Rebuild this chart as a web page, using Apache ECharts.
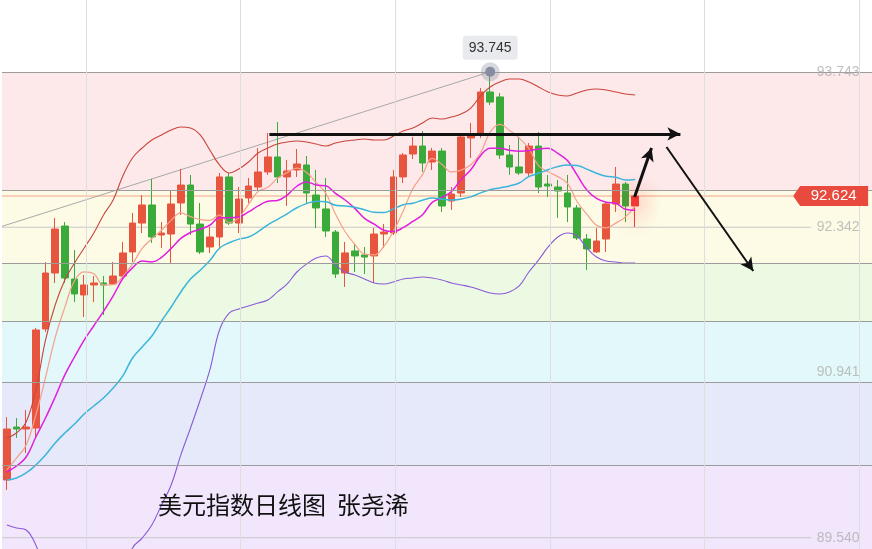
<!DOCTYPE html>
<html><head><meta charset="utf-8">
<script src="https://cdn.jsdelivr.net/npm/echarts@6/dist/echarts.min.js"></script>
<style>html,body{margin:0;padding:0;background:#fff}#c{width:872px;height:549px}</style>
</head><body><div id="c"></div>
<script>
// ---- data ----
const categories = Array.from({length: 90}, (_, i) => 'D' + (i + 1));
// [open, close, low, high]
const ohlc = [
[90.061,90.521,89.971,90.629],[90.539,90.521,90.440,90.620],[90.521,90.539,90.305,90.693],[90.530,91.415,90.449,91.433],
[91.424,91.929,91.397,92.028],[91.929,92.326,91.839,92.426],[92.353,91.884,91.839,92.389],[91.875,91.740,91.667,92.137],
[91.731,91.821,91.532,91.911],[91.821,91.839,91.667,91.902],[91.839,91.821,91.550,91.902],[91.830,91.902,91.821,92.028],
[91.902,92.110,91.884,92.209],[92.119,92.380,92.028,92.471],[92.380,92.543,92.290,92.633],[92.543,92.254,92.200,92.778],
[92.272,92.290,92.155,92.389],[92.281,92.552,92.019,92.678],[92.561,92.723,92.453,92.868],[92.723,92.371,92.272,92.814],
[92.371,92.119,92.101,92.561],[92.164,92.254,92.110,92.344],[92.254,92.796,92.155,92.832],[92.796,92.380,92.362,92.832],
[92.380,92.597,92.290,92.705],[92.606,92.714,92.561,92.787],[92.705,92.841,92.678,93.057],[92.841,92.976,92.814,93.193],
[92.976,92.796,92.741,93.292],[92.796,92.850,92.534,92.949],[92.859,92.913,92.796,93.048],[92.904,92.651,92.561,92.985],
[92.633,92.516,92.335,92.859],[92.507,92.308,92.254,92.787],[92.299,91.920,91.884,92.317],[91.929,92.110,91.803,92.209],
[92.128,92.083,91.938,92.191],[92.092,92.073,91.920,92.164],[92.083,92.281,91.839,92.335],[92.281,92.299,92.155,92.371],
[92.290,92.796,92.272,92.859],[92.796,92.994,92.741,93.012],[93.003,93.075,92.958,93.157],[93.075,92.922,92.841,93.211],
[92.931,93.030,92.859,93.057],[93.030,92.534,92.480,93.057],[92.579,92.642,92.498,92.705],[92.651,93.157,92.615,93.175],
[93.148,93.166,92.967,93.283],[93.184,93.563,93.148,93.599],[93.563,93.472,93.445,93.745],[93.518,92.994,92.958,93.554],
[92.994,92.886,92.814,93.084],[92.886,92.832,92.814,93.157],[92.832,93.075,92.796,93.102],[93.075,92.705,92.651,93.202],
[92.732,92.714,92.615,92.814],[92.705,92.669,92.426,92.768],[92.651,92.525,92.389,92.814],[92.516,92.245,92.227,92.543],
[92.236,92.146,91.956,92.281],[92.119,92.218,92.110,92.335],[92.236,92.552,92.119,92.570],[92.552,92.732,92.480,92.886],
[92.732,92.534,92.389,92.750],[92.534,92.624,92.344,92.624]
];
const ma5 = [90.151,90.259,90.377,90.647,90.985,91.346,91.619,91.859,91.940,91.922,91.821,91.824,91.898,92.010,92.151,92.238,92.315,92.404,92.472,92.438,92.411,92.404,92.453,92.384,92.429,92.548,92.666,92.702,92.785,92.835,92.875,92.837,92.745,92.648,92.462,92.301,92.187,92.099,92.093,92.169,92.306,92.489,92.689,92.817,92.963,92.911,92.841,92.857,92.906,93.012,93.200,93.270,93.216,93.149,93.052,92.898,92.842,92.799,92.738,92.572,92.460,92.360,92.337,92.379,92.436,92.532];
const ma10 = [90.133,90.187,90.268,90.449,90.620,90.810,91.009,91.171,91.324,91.453,91.583,91.722,91.879,91.975,92.037,92.029,92.070,92.151,92.241,92.295,92.324,92.360,92.428,92.428,92.434,92.480,92.535,92.577,92.584,92.632,92.712,92.751,92.723,92.716,92.648,92.588,92.512,92.422,92.370,92.315,92.304,92.338,92.394,92.455,92.566,92.609,92.665,92.773,92.861,92.988,93.055,93.055,93.037,93.028,93.032,93.049,93.056,93.008,92.944,92.812,92.679,92.602,92.568,92.558,92.504,92.496];
const ma20 = [90.061,90.079,90.124,90.196,90.287,90.395,90.485,90.566,90.657,90.729,90.801,90.891,91.000,91.162,91.261,91.361,91.496,91.622,91.758,91.874,91.954,92.041,92.153,92.202,92.235,92.254,92.302,92.364,92.413,92.463,92.518,92.555,92.576,92.572,92.541,92.534,92.523,92.500,92.477,92.474,92.508,92.545,92.559,92.586,92.607,92.598,92.588,92.597,92.616,92.652,92.680,92.697,92.715,92.741,92.799,92.829,92.861,92.890,92.903,92.900,92.867,92.829,92.802,92.793,92.768,92.773];
const bollUpper = [90.440,90.485,90.584,90.873,91.324,91.640,91.866,92.019,92.155,92.290,92.453,92.588,92.805,92.967,93.057,93.130,93.175,93.220,93.247,93.238,93.175,93.039,92.904,92.832,92.868,92.931,93.012,93.057,93.093,93.111,93.120,93.111,93.093,93.075,93.102,93.120,93.130,93.139,93.130,93.130,93.166,93.211,93.238,93.283,93.328,93.319,93.337,93.364,93.418,93.527,93.608,93.653,93.680,93.680,93.653,93.608,93.563,93.536,93.527,93.554,93.581,93.590,93.581,93.563,93.545,93.536];
const bollLower = [89.655,89.628,89.610,89.474,89.231,89.113,89.068,89.068,89.113,89.158,89.113,89.140,89.176,89.447,89.537,89.655,89.835,90.016,90.287,90.530,90.783,91.054,91.415,91.568,91.604,91.631,91.658,91.685,91.758,91.830,91.938,92.010,92.064,92.083,92.001,91.938,91.911,91.875,91.839,91.830,91.848,91.875,91.884,91.893,91.884,91.866,91.839,91.821,91.803,91.776,91.749,91.740,91.758,91.812,91.938,92.046,92.164,92.254,92.290,92.263,92.155,92.073,92.037,92.028,92.019,92.019];
const bandLevels = [93.743, 92.678, 92.019, 91.487, 90.945, 90.187];
const bandColors = ['#fde9e9', '#fdfbe6', '#ecf9e3', '#e2f8fa', '#e6e9fa', '#f1e6fb'];
const fibLabels = [93.743, 92.342, 90.941, 89.540];
const lastPrice = 92.624;
const peakIndex = 50, peakValue = 93.745;
const yMin = 89.438, yMax = 94.393;
const trendLine = [[0, 92.350], [50.5, 93.745]];
const arrows = [
  {from: [27.66, 93.184], to: [70.18, 93.184], w: 3},
  {from: [65.44, 92.615], to: [67.19, 93.057], w: 3},
  {from: [68.74, 93.066], to: [77.72, 91.947], w: 2}
];
const vLines = [8.67, 24.67, 40.67, 56.67, 72.67, 88.66];
const titleText = '美元指数日线图  张尧浠';

// ---- chart ----
const chart = echarts.init(document.getElementById('c'), null, {renderer: 'canvas'});
const UP = '#e8553e', DOWN = '#3aab3a';
const candleData = ohlc.map((d, i) => i === ohlc.length - 1
  ? {value: d, itemStyle: {color: '#f23a34', borderColor: '#f23a34', shadowBlur: 22, shadowColor: 'rgba(255,30,30,0.9)'}}
  : d);
const areaData = [[{yAxis: yMax, itemStyle: {color: '#ffffff'}}, {yAxis: bandLevels[0]}]];
for (let i = 0; i < bandLevels.length; i++) {
  areaData.push([{yAxis: bandLevels[i], itemStyle: {color: bandColors[i]}}, {yAxis: i + 1 < bandLevels.length ? bandLevels[i + 1] : yMin}]);
}
function maLine(name, data, color, width) {
  return {name, type: 'line', data, xAxisIndex: 0, yAxisIndex: 0, symbol: 'none', smooth: 0.4,
    lineStyle: {color, width}, z: 4, silent: true};
}
const option = {
  animation: false,
  backgroundColor: '#ffffff',
  title: {text: titleText, left: 158, top: 493, padding: 0,
    textStyle: {fontSize: 24, fontWeight: 'normal', color: '#111', fontFamily: 'Noto Sans CJK SC'}},
  grid: {left: 2, top: 0, width: 872, height: 549},
  xAxis: [
    {type: 'category', data: categories, show: false, boundaryGap: true},
    {type: 'value', min: 0, max: 90, show: false}
  ],
  yAxis: {type: 'value', min: yMin, max: yMax, show: false, scale: true},
  series: [
    {type: 'line', xAxisIndex: 1, data: [[0, yMin], [90, yMin]], symbol: 'none', lineStyle: {opacity: 0}, z: 0, silent: true,
      markArea: {silent: true, data: areaData},
      markLine: {silent: true, symbol: 'none', label: {show: false},
        data: bandLevels.map(v => ({yAxis: v, lineStyle: {color: '#9c9c9c', width: 1, type: 'solid'}}))
          .concat(vLines.map(v => ({xAxis: v, lineStyle: {color: '#dedede', width: 1, type: 'solid'}})))}
    },
    {type: 'line', xAxisIndex: 1, data: [[0, fibLabels[1]], [83.7, fibLabels[1]]], symbol: 'none', lineStyle: {color: '#c8c8c8', width: 1}, z: 1, silent: true},
    {type: 'line', xAxisIndex: 1, data: [[0, fibLabels[3]], [83.7, fibLabels[3]]], symbol: 'none', lineStyle: {color: '#c8c8c8', width: 1}, z: 1, silent: true},
    {type: 'line', xAxisIndex: 1, data: [[0, lastPrice], [81.85, lastPrice]], symbol: 'none', lineStyle: {color: '#f2a489', width: 1}, z: 1, silent: true},
    {type: 'line', xAxisIndex: 1, data: trendLine, symbol: 'none', lineStyle: {color: '#a9a9a9', width: 1}, z: 2, silent: true},
    {type: 'candlestick', xAxisIndex: 0, data: candleData, barWidth: 7, z: 3,
      itemStyle: {color: UP, color0: DOWN, borderColor: UP, borderColor0: DOWN, borderWidth: 1}},
    maLine('MA5', ma5, '#f5a08c', 1.2),
    maLine('MA10', ma10, '#e01fde', 1.5),
    maLine('MA20', ma20, '#3cb5dc', 1.5),
    maLine('UP', bollUpper, '#c9453c', 1.1),
    maLine('DN', bollLower, '#8a5ad8', 1.1),
    {type: 'line', xAxisIndex: 1, data: [], symbol: 'none', z: 6, silent: true,
      markLine: {silent: true, symbol: ['none', 'arrow'], symbolSize: [10, 13], label: {show: false},
        data: arrows.map(a => [{coord: a.from, lineStyle: {color: '#111', width: a.w, type: 'solid'}}, {coord: a.to}])},
      markPoint: {silent: true, data: [
        {coord: [peakIndex + 0.5, peakValue], symbol: 'circle', symbolSize: 19, itemStyle: {color: 'rgba(140,146,170,0.35)'}, label: {show: false}},
        {coord: [peakIndex + 0.5, peakValue], symbol: 'circle', symbolSize: 10, itemStyle: {color: '#878ca3'},
          label: {show: true, position: 'top', distance: 7, formatter: peakValue.toFixed(3), backgroundColor: '#e8eaed',
            borderRadius: 3, padding: [5, 6], color: '#333', fontSize: 14, fontFamily: 'Liberation Sans'}}
      ]}
    },
    {type: 'scatter', xAxisIndex: 1, z: 7, silent: true,
      symbol: 'path://M0,10L7,0L75,0L75,20L7,20Z', symbolSize: [75, 20],
      itemStyle: {color: '#e84a3d', opacity: 1},
      data: [[85.72, lastPrice]],
      label: {show: true, position: 'inside', formatter: p => p.value[1].toFixed(3), color: '#ffffff',
        fontSize: 15, fontFamily: 'Liberation Sans', offset: [3, 0]}},
    {type: 'scatter', xAxisIndex: 1, symbolSize: 1, itemStyle: {color: 'rgba(0,0,0,0)'}, z: 7, silent: true,
      data: fibLabels.map(v => ({value: [88.66, v], label: v === 90.941 ? {offset: [0, -10]} : {}})),
      label: {show: true, position: 'left', distance: -1, formatter: p => p.value[1].toFixed(3),
        color: '#b0b0b0', fontSize: 14, fontFamily: 'Liberation Sans'}}
  ]
};
chart.setOption(option);
</script></body></html>
